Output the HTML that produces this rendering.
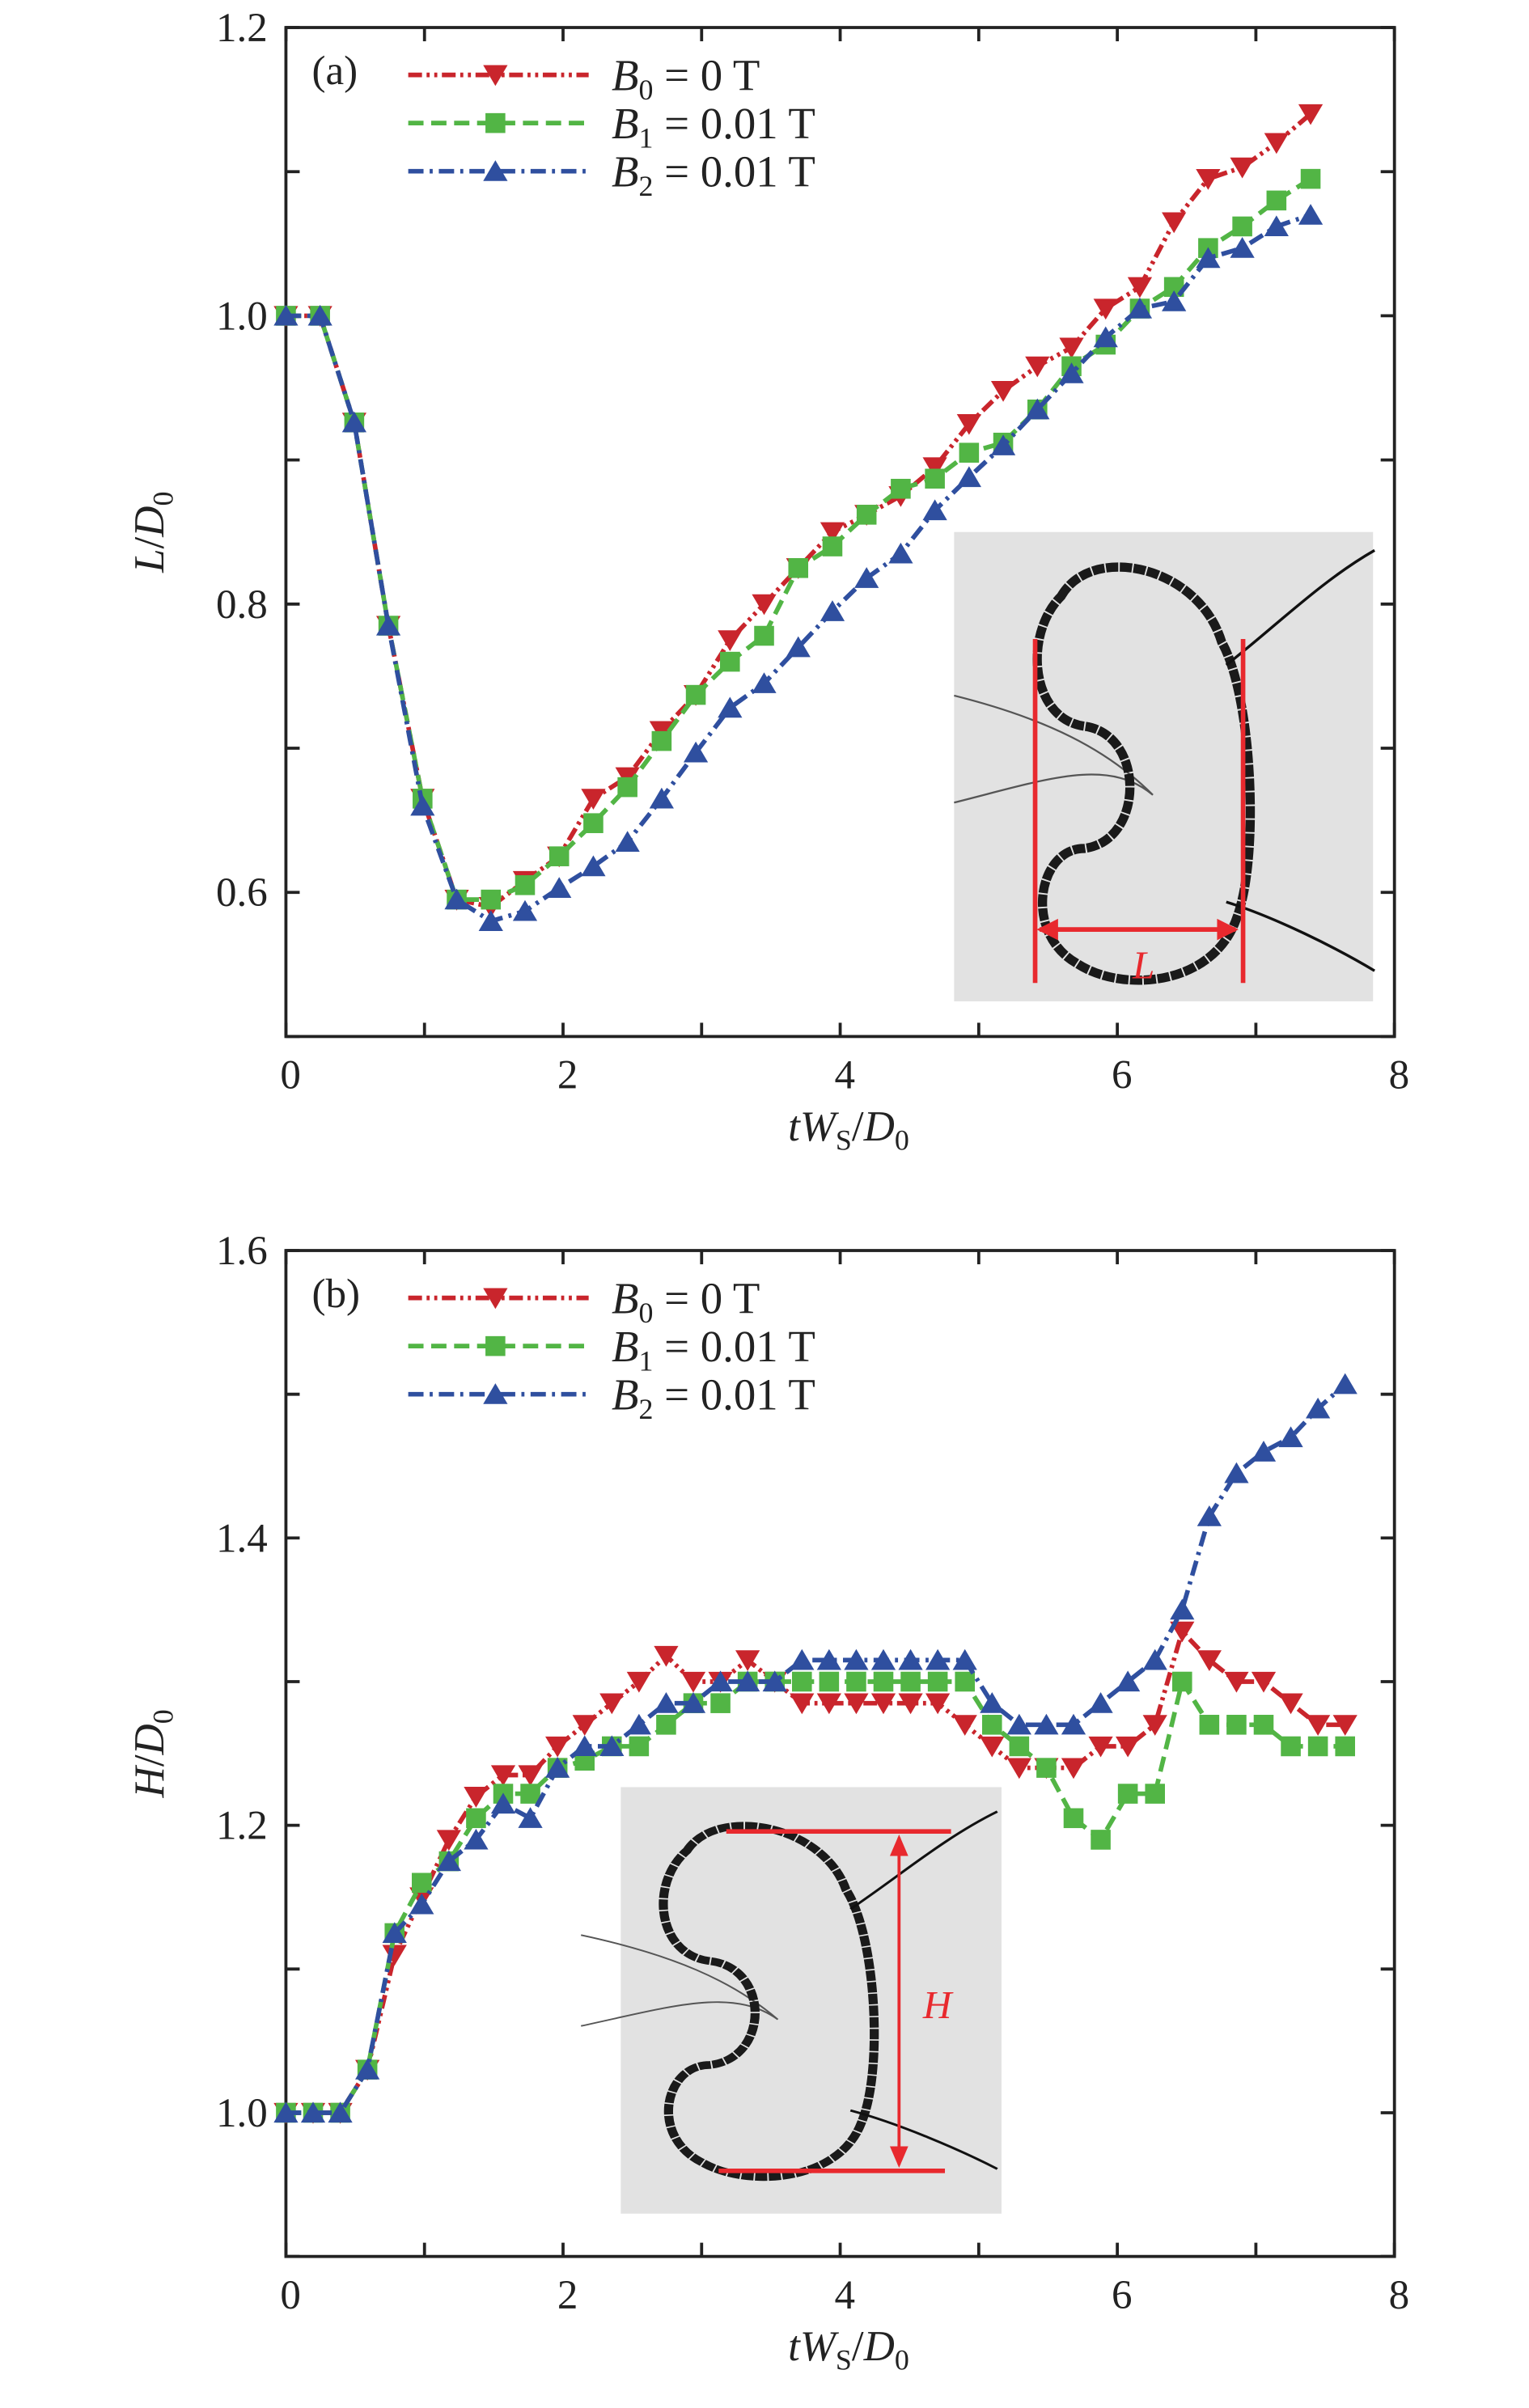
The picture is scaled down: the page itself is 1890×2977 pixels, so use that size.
<!DOCTYPE html>
<html><head><meta charset="utf-8"><style>
html,body{margin:0;padding:0;background:#fff}
svg{display:block}
text{font-family:"Liberation Serif",serif;fill:#222}
</style></head><body>
<svg id="fig" width="1890" height="2977" viewBox="0 0 1000 1575.13" xmlns="http://www.w3.org/2000/svg">
<g id="pa"></g>
<g id="pb"></g>
</svg>
<script>
const xsA = Array.from({length:31},(_,i)=>i*0.2465);
const aB0 = [1.0,1.0,0.926,0.785,0.665,0.595,0.59,0.608,0.625,0.665,0.68,0.712,0.737,0.775,0.80,0.825,0.85,0.862,0.875,0.895,0.925,0.948,0.965,0.978,1.005,1.02,1.065,1.095,1.103,1.12,1.14];
const aB1 = [1.0,1.0,0.926,0.785,0.665,0.595,0.595,0.605,0.625,0.648,0.673,0.705,0.737,0.76,0.778,0.825,0.84,0.862,0.88,0.887,0.905,0.912,0.935,0.965,0.98,1.005,1.02,1.047,1.062,1.08,1.095];
const aB2 = [1.0,1.0,0.926,0.785,0.66,0.595,0.58,0.587,0.603,0.618,0.635,0.665,0.697,0.728,0.745,0.77,0.795,0.818,0.835,0.865,0.888,0.91,0.935,0.96,0.985,1.005,1.01,1.04,1.047,1.062,1.07];
const xsB = Array.from({length:40},(_,i)=>i*0.196);
const bB0 = [1.0,1.0,1.0,1.03,1.11,1.15,1.19,1.22,1.235,1.235,1.255,1.27,1.285,1.30,1.318,1.30,1.30,1.315,1.30,1.285,1.285,1.285,1.285,1.285,1.285,1.27,1.255,1.24,1.24,1.24,1.255,1.255,1.27,1.335,1.315,1.30,1.30,1.285,1.27,1.27];
const bB1 = [1.0,1.0,1.0,1.03,1.125,1.16,1.175,1.205,1.222,1.222,1.24,1.245,1.255,1.255,1.27,1.285,1.285,1.30,1.30,1.30,1.30,1.30,1.30,1.30,1.30,1.30,1.27,1.255,1.24,1.205,1.19,1.222,1.222,1.30,1.27,1.27,1.27,1.255,1.255,1.255];
const bB2 = [1.0,1.0,1.0,1.03,1.125,1.145,1.175,1.19,1.215,1.205,1.24,1.255,1.255,1.27,1.285,1.285,1.30,1.30,1.30,1.315,1.315,1.315,1.315,1.315,1.315,1.315,1.285,1.27,1.27,1.27,1.285,1.30,1.315,1.35,1.415,1.445,1.46,1.47,1.49,1.507];
const xTicks = [0,2,4,6,8];
const yTicksA = [0.6,0.8,1.0,1.2];
const yTicksB = [1.0,1.2,1.4,1.6];
const NS="http://www.w3.org/2000/svg";
function el(p,t,a){const e=document.createElementNS(NS,t);for(const k in a)e.setAttribute(k,a[k]);p.appendChild(e);return e;}
const COLORS=['#c9252c','#52b545','#2f4f9f'];
const DASH=['9,3,2,3,2,3','10,5','10,4,2,4'];
function marker(g,k,x,y){
  const s=8;let m;
  if(k===0) m=el(g,'polygon',{points:`${x-s},${y-s*0.8} ${x+s},${y-s*0.8} ${x},${y+s*0.9}`,fill:COLORS[0]});
  else if(k===1) m=el(g,'rect',{x:x-6.5,y:y-6.5,width:13,height:13,fill:COLORS[1]});
  else m=el(g,'polygon',{points:`${x-s},${y+s*0.8} ${x+s},${y+s*0.8} ${x},${y-s*0.9}`,fill:COLORS[2]});
  return m;
}
function panel(g,o){
  const X=v=>o.x0+(v-0)/8*(o.x1-o.x0);
  const Y=v=>o.y1-(v-o.ymin)/(o.ymax-o.ymin)*(o.y1-o.y0);
  o.inset(g);
  const frame=el(g,'rect',{x:o.x0,y:o.y0,width:o.x1-o.x0,height:o.y1-o.y0,fill:'none',stroke:'#222','stroke-width':2});
  
  
  for(let v=0;v<=8;v++){
    el(g,'line',{x1:X(v),x2:X(v),y1:o.y1,y2:o.y1-9,stroke:'#222','stroke-width':2});
    el(g,'line',{x1:X(v),x2:X(v),y1:o.y0,y2:o.y0+9,stroke:'#222','stroke-width':2});
  }
  xTicks.forEach(v=>{const t=el(g,'text',{x:X(v)+3,y:o.y1+34,'font-size':27,'text-anchor':'middle'});t.textContent=v;
    });
  for(let i=0;i<=7;i++){const v=o.ymin+i*0.1;
    el(g,'line',{x1:o.x0,x2:o.x0+9,y1:Y(v),y2:Y(v),stroke:'#222','stroke-width':2});
    el(g,'line',{x1:o.x1,x2:o.x1-9,y1:Y(v),y2:Y(v),stroke:'#222','stroke-width':2});}
  o.yTicks.forEach(v=>{const t=el(g,'text',{x:o.x0-12,y:Y(v)+9,'font-size':27,'text-anchor':'end'});t.textContent=v.toFixed(1);
    });
  const xl=el(g,'text',{x:555,y:o.y1+68,'font-size':28,'text-anchor':'middle'});
  xl.innerHTML='<tspan font-style="italic">tW</tspan><tspan font-size="19" dy="6">S</tspan><tspan dy="-6">/</tspan><tspan font-style="italic">D</tspan><tspan font-size="19" dy="6">0</tspan>';
  
  const yl=el(g,'text',{x:0,y:0,'font-size':28,'text-anchor':'middle',transform:`translate(${o.x0-80},${(o.y0+o.y1)/2}) rotate(-90)`});
  yl.innerHTML=`<tspan font-style="italic">${o.yname}</tspan>/<tspan font-style="italic">D</tspan><tspan font-size="19" dy="6">0</tspan>`;
  
  const pl=el(g,'text',{x:o.x0+17,y:o.y0+37,'font-size':27});pl.textContent=o.label;
  
  o.series.forEach((ys,k)=>{
    const sg=el(g,'g',{});
    
    el(sg,'polyline',{points:o.xs.map((x,i)=>X(x)+','+Y(ys[i])).join(' '),fill:'none',stroke:COLORS[k],'stroke-width':3,'stroke-dasharray':DASH[k]});
    ys.forEach((v,i)=>{const m=marker(sg,k,X(o.xs[i]),Y(v));
      });
  });
  const names=[['0','0'],['1','0.01'],['2','0.01']];
  names.forEach((n,k)=>{const ly=o.y0+31+k*31.5;
    const lg=el(g,'g',{});
    
    el(lg,'line',{x1:267,x2:385,y1:ly,y2:ly,stroke:COLORS[k],'stroke-width':3,'stroke-dasharray':DASH[k]});
    marker(lg,k,324,ly);
    const t=el(lg,'text',{x:400,y:ly+10,'font-size':29});
    t.innerHTML=`<tspan font-style="italic">B</tspan><tspan font-size="19" dy="6">${n[0]}</tspan><tspan dy="-6"> = ${n[1]}  T</tspan>`;
  });
}
function kidney(g,tx,ty,sx,sy){
  const ig=el(g,'g',{transform:`translate(${tx},${ty}) scale(${sx},${sy})`});
  el(ig,'path',{d:'M0,95 C60,110 100,130 130,160 M0,165 C60,150 100,135 130,160',fill:'none',stroke:'#555','stroke-width':1.2});
  el(ig,'path',{d:'M70,30 C90,-5 160,10 175,60 C195,95 200,200 185,240 C170,285 110,290 80,270 C45,250 55,195 85,195 C125,190 125,120 85,115 C50,110 45,55 70,30 Z',fill:'none',stroke:'#1a1a1a','stroke-width':6,'stroke-dasharray':'8,1'});
  el(ig,'path',{d:'M178,75 C210,50 240,20 275,0 M178,230 C210,240 250,260 275,275',fill:'none',stroke:'#111','stroke-width':1.8});
  return ig;
}
const pa=document.getElementById('pa');
panel(pa,{x0:187,x1:912,y0:18,y1:678,ymin:0.5,ymax:1.2,yTicks:yTicksA,yname:'L',label:'(a)',xs:xsA,series:[aB0,aB1,aB2],
 inset:g=>{const ig=el(g,'g',{});
  el(ig,'rect',{x:624,y:348,width:274,height:307,fill:'#e2e2e2'});
  kidney(ig,624,360,1.0,1.0);
  el(ig,'line',{x1:677,x2:677,y1:418,y2:643,stroke:'#e8292e','stroke-width':3});
  el(ig,'line',{x1:813,x2:813,y1:418,y2:643,stroke:'#e8292e','stroke-width':3});
  el(ig,'line',{x1:680,x2:808,y1:608,y2:608,stroke:'#e8292e','stroke-width':3});
  el(ig,'polygon',{points:'678,608 692,601 692,615',fill:'#e8292e'});
  el(ig,'polygon',{points:'810,608 796,601 796,615',fill:'#e8292e'});
  const t=el(ig,'text',{x:748,y:640,'font-size':26,'font-style':'italic','text-anchor':'middle'});t.textContent='L';t.style.fill='#e8292e';
 }});
const pb=document.getElementById('pb');
panel(pb,{x0:187,x1:912,y0:818,y1:1476,ymin:0.9,ymax:1.6,yTicks:yTicksB,yname:'H',label:'(b)',xs:xsB,series:[bB0,bB1,bB2],
 inset:g=>{const ig=el(g,'g',{});
  el(ig,'rect',{x:406,y:1169,width:249,height:279,fill:'#e2e2e2'});
  kidney(ig,380,1185,0.99,0.85);
  el(ig,'line',{x1:475,x2:622,y1:1198,y2:1198,stroke:'#e8292e','stroke-width':3});
  el(ig,'line',{x1:470,x2:618,y1:1420,y2:1420,stroke:'#e8292e','stroke-width':3});
  el(ig,'line',{x1:588,x2:588,y1:1202,y2:1416,stroke:'#e8292e','stroke-width':2});
  el(ig,'polygon',{points:'588,1200 582,1214 594,1214',fill:'#e8292e'});
  el(ig,'polygon',{points:'588,1418 582,1404 594,1404',fill:'#e8292e'});
  const t=el(ig,'text',{x:613,y:1320,'font-size':26,'font-style':'italic','text-anchor':'middle'});t.textContent='H';t.style.fill='#e8292e';
 }});
</script>
</body></html>
